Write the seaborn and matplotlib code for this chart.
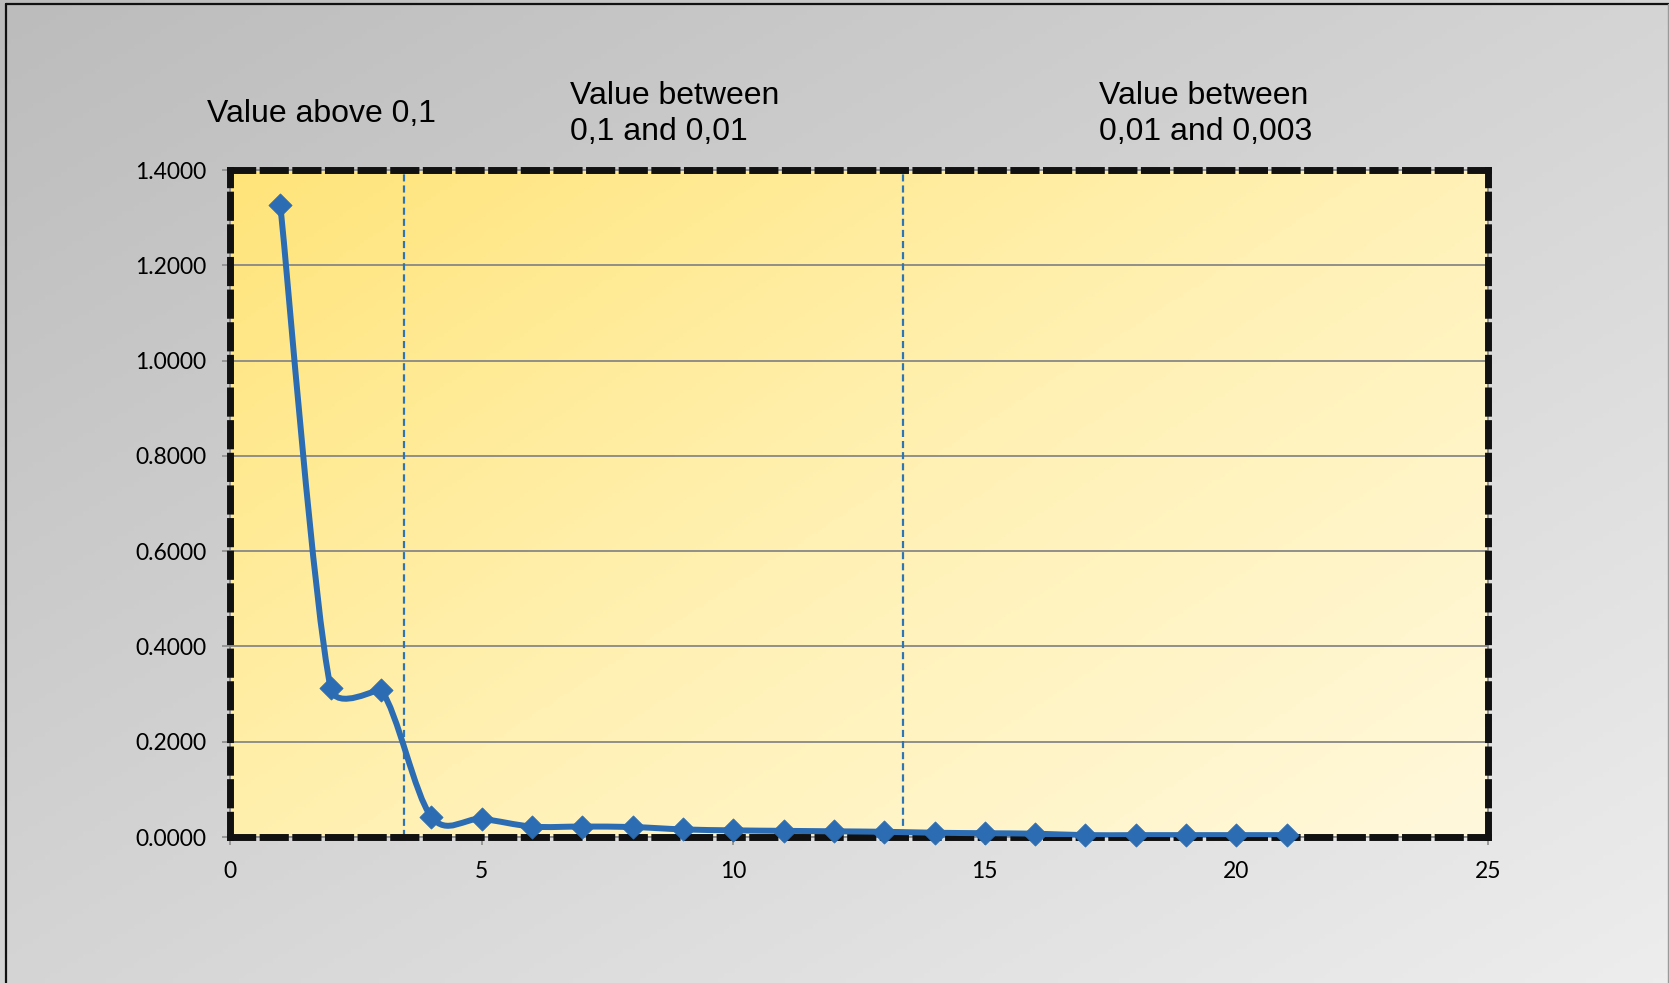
import numpy as np
import matplotlib
matplotlib.use("Agg")
import matplotlib.pyplot as plt
import seaborn as sns
from matplotlib.path import Path
from matplotlib.patches import PathPatch, Rectangle
from matplotlib.lines import Line2D
from matplotlib.colors import LinearSegmentedColormap

# data
x_vals = list(range(1, 22))
y_vals = [1.326, 0.313, 0.309, 0.0425, 0.038, 0.022, 0.022, 0.021, 0.016, 0.014,
          0.013, 0.012, 0.011, 0.009, 0.008, 0.007, 0.004, 0.004, 0.004, 0.004, 0.004]
band_edges = [3.45, 13.38]
band_labels = ["Value above 0,1", "Value between\n0,1 and 0,01", "Value between\n0,01 and 0,003"]
x_ticks = [0, 5, 10, 15, 20, 25]
y_ticks = [0.0, 0.2, 0.4, 0.6, 0.8, 1.0, 1.2, 1.4]

line_color = "#2b6cb3"

sns.set_theme(style="white")
plt.rcParams["font.family"] = ["Lato", "DejaVu Sans"]

fig = plt.figure(figsize=(16.69, 9.83), dpi=100)

# grey gradient behind everything
bg = fig.add_axes([0, 0, 1, 1], zorder=-10)
gu, gv = np.meshgrid(np.linspace(0, 1, 300), np.linspace(0, 1, 200))
bg.imshow((gu + gv) / 2, cmap=LinearSegmentedColormap.from_list("bgc", ["#bcbcbc", "#ededed"]),
          aspect="auto", extent=[0, 1, 0, 1], origin="upper")
bg.axis("off")

ax = fig.add_axes([0.1378, 0.1485, 0.7538, 0.6785])
ax.set_facecolor("none")

# yellow gradient inside the plot area
pu, pv = np.meshgrid(np.linspace(0, 1, 300), np.linspace(0, 1, 200))
ax.imshow((pu * 0.55 + pv * 0.45),
          cmap=LinearSegmentedColormap.from_list("pa", ["#ffe47a", "#fff1b3", "#fff8dc"]),
          aspect="auto", extent=[0, 25, 0, 1.4], origin="upper", zorder=0)

ax.set_xlim(0, 25)
ax.set_ylim(0, 1.4)
ax.set_xticks(x_ticks)
ax.set_yticks(y_ticks)
ax.set_yticklabels([f"{t:.4f}" for t in y_ticks])
ax.yaxis.grid(True, color="#878787", lw=1.3)
ax.xaxis.grid(False)
ax.set_axisbelow(True)
ax.tick_params(axis="both", bottom=True, left=True, length=6, width=1.2,
               color="#8c8c8c", labelsize=16.5, pad=11, labelcolor="black")

# thin grey axis frame under the dashed border
ax.add_patch(Rectangle((0, 0), 1, 1, transform=ax.transAxes, fill=False,
                       ec="#8c8c8c", lw=1.3, zorder=2.8, clip_on=False))
for s in ax.spines.values():
    s.set_color("#111111")
    s.set_linewidth(5)
    s.set_linestyle((0, (3.2, 1.5)))
    s.set_zorder(3)

for xe in band_edges:
    ax.axvline(xe, color="#2e75b6", lw=1.6, ls=(0, (3.2, 1.8)), zorder=2)

# smoothed line like the spreadsheet "smooth line" option
P = ax.transData.transform(np.column_stack([x_vals, y_vals]))
n = len(P)
verts = [P[0]]
codes = [Path.MOVETO]
for i in range(n - 1):
    p0, p1, p2, p3 = P[max(i - 1, 0)], P[i], P[i + 1], P[min(i + 2, n - 1)]
    seg = np.linalg.norm(p2 - p1)
    nxt = np.linalg.norm(p3 - p2) if i + 2 < n else seg
    t1 = (p2 - p0) / 6
    t2 = (p3 - p1) / 6
    cap1 = seg / 2
    cap2 = seg / 2 * (seg / max(seg, nxt)) ** 2
    if np.linalg.norm(t1) > cap1:
        t1 = t1 * cap1 / np.linalg.norm(t1)
    if np.linalg.norm(t2) > cap2:
        t2 = t2 * cap2 / np.linalg.norm(t2)
    verts += [p1 + t1, p2 - t2, p2]
    codes += [Path.CURVE4] * 3
verts = ax.transData.inverted().transform(np.array(verts))
ax.add_patch(PathPatch(Path(verts, codes), facecolor="none", edgecolor=line_color,
                       lw=4.3, zorder=4, capstyle="round", joinstyle="round"))

sns.scatterplot(x=x_vals, y=y_vals, marker="D", s=140, color=line_color,
                edgecolor=line_color, linewidth=0.5, zorder=5, ax=ax, clip_on=False)
ax.set_xlim(0, 25)
ax.set_ylim(0, 1.4)
ax.set_xlabel("")
ax.set_ylabel("")

label_x = [0.124, 0.3415, 0.6585]
for lx, lab in zip(label_x, band_labels):
    fig.text(lx, 0.884, lab, ha="left", va="center", fontsize=23,
             family=["Liberation Sans", "DejaVu Sans"], color="black", linespacing=1.25)

# frame of the picture
fig.add_artist(Line2D([6 / 1669, 6 / 1669], [0, 1 - 4 / 983], color="#111111", lw=1.6))
fig.add_artist(Line2D([6 / 1669, 1], [1 - 4 / 983, 1 - 4 / 983], color="#111111", lw=1.6))
fig.add_artist(Line2D([1667.5 / 1669, 1667.5 / 1669], [0, 1 - 4 / 983], color="#9a9a9a", lw=1))

fig.savefig("out.png", dpi=100)
